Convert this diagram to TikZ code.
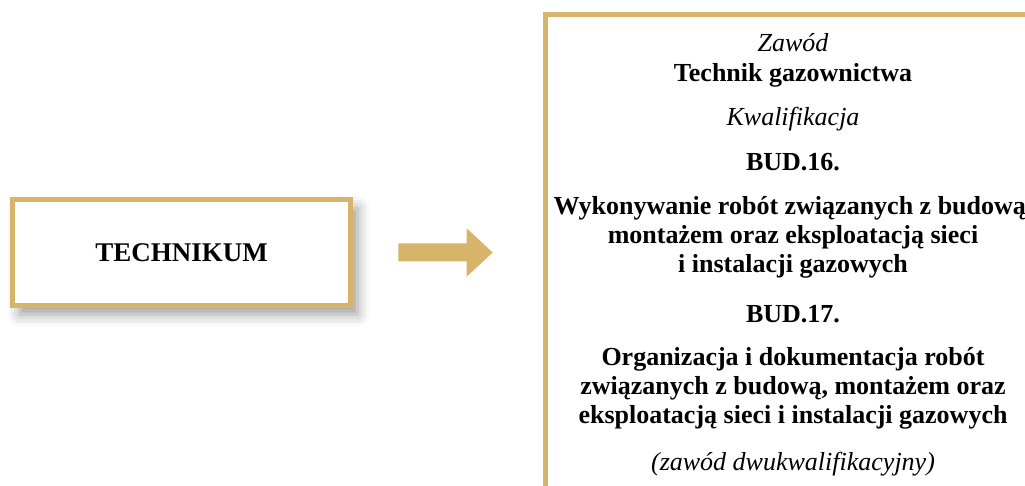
\documentclass[tikz,border=0pt]{standalone}
\usepackage{fontspec}
\setmainfont{Liberation Serif}
\usetikzlibrary{shadows.blur}
\definecolor{zloty}{RGB}{214,180,106}

\tikzset{
  ramka/.style={draw=zloty, line width=4.8pt, fill=white, minimum width=338pt, minimum height=106pt,
    blur shadow={shadow xshift=7pt, shadow yshift=-9pt, shadow blur radius=12pt, shadow opacity=40}},
  tekst/.style={font=\fontsize{26}{29}\selectfont, align=center, anchor=base, inner sep=0pt},
  pogr/.style={tekst, font=\fontsize{26}{29}\selectfont\bfseries},
  kurs/.style={tekst, font=\fontsize{26}{29}\selectfont\itshape}
}

\begin{document}
\begin{tikzpicture}[x=1pt,y=-1pt]
\useasboundingbox (0,0) rectangle (1025,486);
\node[ramka, font=\fontsize{27}{29}\selectfont\bfseries] (technikum) at (181.6,252.3) {TECHNIKUM};

\fill[zloty] (398.3,243.5) -- (466.7,243.5) -- (466.7,228.3) -- (492.7,252.5)
  -- (466.7,276.7) -- (466.7,261.5) -- (398.3,261.5) -- cycle;

\draw[zloty, line width=4.6pt] (545.6,486) -- (545.6,14.4) -- (1025,14.4);

\node[kurs] (zawod) at (793,52) {Zawód};
\node[pogr] (nazwa) at (793,82) {Technik gazownictwa};
\node[kurs] (kwal) at (793,126) {Kwalifikacja};
\node[pogr] (bud16) at (793,171) {BUD.16.};
\node[pogr, anchor=north] (opis16) at (793,196) {Wykonywanie robót związanych z budową,\\montażem oraz eksploatacją sieci\\i instalacji gazowych};
\node[pogr] (bud17) at (793,322) {BUD.17.};
\node[pogr, anchor=north] (opis17) at (793,347) {Organizacja i dokumentacja robót\\związanych z budową, montażem oraz\\eksploatacją sieci i instalacji gazowych};
\node[kurs] (uwaga) at (793,470) {(zawód dwukwalifikacyjny)};
\end{tikzpicture}
\end{document}
